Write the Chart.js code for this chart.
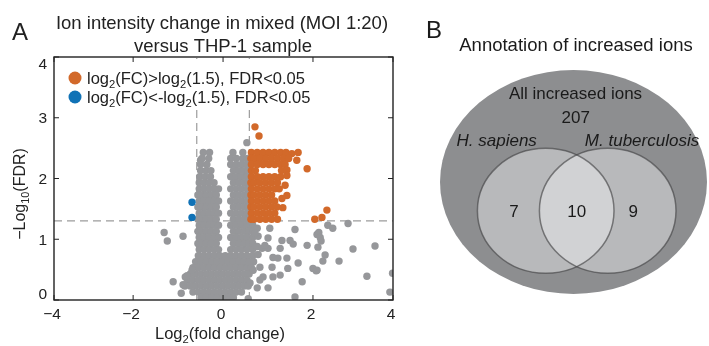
<!DOCTYPE html>
<html>
<head>
<meta charset="utf-8">
<script src="https://cdn.jsdelivr.net/npm/chart.js@4.4.1/dist/chart.umd.min.js"></script>
<style>
  html, body { margin: 0; padding: 0; background: #fff; }
  #wrap { position: relative; width: 709px; height: 346px; }
  #volcano { position: absolute; left: 0; top: 0; }
  #venn { position: absolute; left: 420px; top: 0; }
</style>
</head>
<body>
<div id="wrap">
  <canvas id="volcano" width="420" height="346"></canvas>
  <canvas id="venn" width="289" height="346"></canvas>
</div>
<script>
// Eixos do gráfico de vulcão
const xRange = [-3.76, 3.78];
const yRange = [0, 4];
const xTickLabels = [-4, -2, 0, 2, 4];
const yTickLabels = [0, 1, 2, 3, 4];
const fcCutoff = Math.log2(1.5);
const fdrCutoff = -Math.log10(0.05);

// Íons diminuídos (azul)
const bluePoints = [[-0.69, 1.61], [-0.69, 1.36]];

// Íons aumentados (laranja)
const orangePoints = [
  [0.71, 2.85], [0.8, 2.7],
  [0.63, 2.43], [0.76, 2.43], [0.89, 2.43], [1.02, 2.43], [1.15, 2.43], [1.28, 2.43], [1.4, 2.43], [1.53, 2.41], [1.67, 2.43],
  [0.62, 2.33], [0.69, 2.33], [0.82, 2.33], [0.95, 2.33], [1.08, 2.33], [1.21, 2.33], [1.34, 2.33], [1.46, 2.33], [1.64, 2.3],
  [0.63, 2.23], [0.76, 2.23], [0.89, 2.23], [1.02, 2.23], [1.15, 2.23], [1.28, 2.23], [1.38, 2.23],
  [0.63, 2.13], [0.72, 2.13], [1.3, 2.13], [1.42, 2.14], [1.87, 2.16],
  [0.63, 2.03], [0.76, 2.03], [0.89, 2.03], [1.02, 2.03], [1.15, 2.03], [1.28, 2.03], [1.42, 2.05],
  [0.62, 1.93], [0.69, 1.93], [0.82, 1.93], [0.95, 1.93], [1.08, 1.93], [1.21, 1.93],
  [0.63, 1.83], [0.76, 1.83], [0.89, 1.83], [1.02, 1.83], [1.15, 1.83], [1.25, 1.83], [1.38, 1.89],
  [0.62, 1.73], [0.69, 1.73], [0.82, 1.73], [0.95, 1.73], [1.08, 1.73], [1.42, 1.72],
  [0.63, 1.63], [0.76, 1.63], [0.89, 1.63], [1.02, 1.63], [1.15, 1.63], [1.31, 1.67],
  [0.62, 1.53], [0.69, 1.53], [0.82, 1.53], [0.95, 1.53], [1.08, 1.53], [1.2, 1.53], [1.33, 1.52],
  [0.63, 1.43], [0.76, 1.43], [0.89, 1.43], [1.02, 1.43], [1.15, 1.43],
  [0.62, 1.33], [0.69, 1.33], [0.82, 1.33], [0.95, 1.33], [1.08, 1.33], [1.21, 1.33],
  [2.31, 1.48], [2.2, 1.36], [2.04, 1.33]
];

// Íons sem mudança significativa (cinza)
const greyPoints = [
  // coluna esquerda
  [-0.44, 2.43], [-0.3, 2.43],
  [-0.5, 2.3], [-0.47, 2.33], [-0.32, 2.33],
  [-0.5, 2.23], [-0.36, 2.23],
  [-0.5, 2.13], [-0.38, 2.13], [-0.27, 2.13],
  [-0.52, 2.03], [-0.4, 2.03], [-0.28, 2.03],
  [-0.53, 1.93], [-0.42, 1.93], [-0.31, 1.93], [-0.2, 1.93],
  [-0.53, 1.83], [-0.42, 1.83], [-0.31, 1.83], [-0.2, 1.83], [-0.1, 1.83],
  [-0.56, 1.73], [-0.48, 1.73], [-0.37, 1.73], [-0.26, 1.73], [-0.15, 1.73],
  [-0.53, 1.63], [-0.42, 1.63], [-0.31, 1.63], [-0.2, 1.63], [-0.1, 1.63],
  [-0.56, 1.53], [-0.48, 1.53], [-0.37, 1.53], [-0.26, 1.53], [-0.15, 1.53],
  [-0.53, 1.43], [-0.42, 1.43], [-0.31, 1.43], [-0.2, 1.43], [-0.1, 1.43],
  [-0.56, 1.33], [-0.48, 1.33], [-0.37, 1.33], [-0.26, 1.33], [-0.15, 1.33],
  [-0.53, 1.23], [-0.42, 1.23], [-0.31, 1.23], [-0.2, 1.23], [-0.1, 1.23],
  [-0.56, 1.13], [-0.48, 1.13], [-0.37, 1.13], [-0.26, 1.13], [-0.15, 1.13],
  [-0.53, 1.03], [-0.42, 1.03], [-0.31, 1.03], [-0.2, 1.03], [-0.1, 1.03],
  [-0.56, 0.93], [-0.48, 0.93], [-0.37, 0.93], [-0.26, 0.93], [-0.15, 0.93],
  [-0.53, 0.83], [-0.42, 0.83], [-0.31, 0.83], [-0.2, 0.83], [-0.1, 0.83],
  // coluna direita
  [0.53, 2.59],
  [0.22, 2.43], [0.44, 2.43],
  [0.17, 2.33], [0.3, 2.33], [0.44, 2.33], [0.54, 2.33],
  [0.17, 2.23], [0.29, 2.23], [0.41, 2.23], [0.53, 2.23],
  [0.23, 2.13], [0.35, 2.13], [0.47, 2.13], [0.56, 2.13],
  [0.17, 2.03], [0.29, 2.03], [0.41, 2.03], [0.53, 2.03],
  [0.23, 1.93], [0.35, 1.93], [0.47, 1.93], [0.56, 1.93],
  [0.17, 1.83], [0.29, 1.83], [0.41, 1.83], [0.53, 1.83],
  [0.23, 1.73], [0.35, 1.73], [0.47, 1.73], [0.56, 1.73],
  [0.17, 1.63], [0.29, 1.63], [0.41, 1.63], [0.53, 1.63],
  [0.23, 1.53], [0.35, 1.53], [0.47, 1.53], [0.56, 1.53],
  [0.17, 1.43], [0.29, 1.43], [0.41, 1.43], [0.53, 1.43],
  [0.23, 1.33], [0.35, 1.33], [0.47, 1.33], [0.56, 1.33],
  [0.17, 1.23], [0.29, 1.23], [0.41, 1.23], [0.53, 1.23],
  [0.23, 1.13], [0.35, 1.13], [0.47, 1.13], [0.58, 1.13],
  [0.17, 1.03], [0.29, 1.03], [0.41, 1.03], [0.53, 1.03],
  [0.23, 0.93], [0.35, 0.93], [0.47, 0.93], [0.58, 0.93],
  [0.17, 0.83], [0.29, 0.83], [0.41, 0.83], [0.53, 0.83],
  [0.66, 1.23], [0.66, 1.13], [0.76, 1.18], [0.66, 1.03], [0.78, 1.05], [0.66, 0.93],
  [0.66, 0.83], [0.76, 0.88], [0.66, 0.73], [0.78, 0.75], [0.68, 0.63],
  // base
  [-0.55, 0.73], [-0.43, 0.73], [-0.31, 0.73], [-0.19, 0.73], [-0.07, 0.73], [0.05, 0.73], [0.17, 0.73], [0.29, 0.73], [0.41, 0.73], [0.53, 0.73],
  [-0.61, 0.63], [-0.49, 0.63], [-0.37, 0.63], [-0.25, 0.63], [-0.13, 0.63], [-0.01, 0.63], [0.11, 0.63], [0.23, 0.63], [0.35, 0.63], [0.47, 0.63], [0.59, 0.63],
  [-0.67, 0.53], [-0.55, 0.53], [-0.43, 0.53], [-0.31, 0.53], [-0.19, 0.53], [-0.07, 0.53], [0.05, 0.53], [0.17, 0.53], [0.29, 0.53], [0.41, 0.53], [0.53, 0.53], [0.63, 0.53],
  [-0.73, 0.43], [-0.61, 0.43], [-0.49, 0.43], [-0.37, 0.43], [-0.25, 0.43], [-0.13, 0.43], [-0.01, 0.43], [0.11, 0.43], [0.23, 0.43], [0.35, 0.43], [0.47, 0.43], [0.58, 0.43],
  [-0.79, 0.33], [-0.67, 0.33], [-0.55, 0.33], [-0.43, 0.33], [-0.31, 0.33], [-0.19, 0.33], [-0.07, 0.33], [0.05, 0.33], [0.17, 0.33], [0.29, 0.33], [0.41, 0.33], [0.53, 0.33],
  [-0.85, 0.23], [-0.73, 0.23], [-0.61, 0.23], [-0.49, 0.23], [-0.37, 0.23], [-0.25, 0.23], [-0.13, 0.23], [-0.01, 0.23], [0.11, 0.23], [0.23, 0.23], [0.35, 0.23], [0.47, 0.23], [0.56, 0.23],
  [-0.67, 0.13], [-0.55, 0.13], [-0.43, 0.13], [-0.31, 0.13], [-0.19, 0.13], [-0.07, 0.13], [0.05, 0.13], [0.17, 0.13], [0.29, 0.13], [0.41, 0.13],
  [-0.49, 0.04], [-0.37, 0.04], [-0.25, 0.04], [-0.13, 0.04], [-0.01, 0.04], [0.11, 0.04], [0.23, 0.04], [0.56, 0.02],
  // pontos dispersos à esquerda
  [-1.31, 1.11], [-1.24, 0.97], [-0.89, 1.05], [-1.11, 0.3], [-0.89, 0.25], [-0.93, 0.11],
  [-0.84, 0.38], [-0.8, 0.4], [-0.69, 0.49],
  // pontos dispersos à direita
  [1.6, 1.16], [2.09, 1.08], [1.49, 0.98], [1.31, 0.98], [1.56, 0.92], [1.27, 0.85], [1.0, 1.02],
  [1.0, 0.85], [0.87, 0.85], [1.87, 0.9], [1.42, 0.69], [1.11, 0.7], [1.22, 0.69], [1.09, 0.54],
  [1.67, 0.61], [1.44, 0.52], [2.0, 0.52], [2.09, 0.49], [1.76, 0.3], [1.27, 0.41], [1.11, 0.38],
  [0.89, 0.38], [0.82, 0.33], [1.0, 0.2], [0.76, 0.2], [0.6, 0.28], [1.6, 0.05], [0.67, 0.49],
  [0.82, 0.54], [0.93, 0.9], [0.71, 1.1], [1.04, 1.18],
  [2.33, 1.23], [2.44, 1.18], [2.78, 1.26], [2.13, 1.11], [2.16, 1.03], [2.18, 0.97], [2.11, 0.87],
  [2.89, 0.84], [3.38, 0.89], [2.27, 0.74], [2.22, 0.64], [2.58, 0.64], [2.07, 0.48], [3.2, 0.39],
  [3.77, 0.44], [3.71, 0.13]
];

// Diagrama de Venn
const vennSets = ['H. sapiens', 'M. tuberculosis'];
const vennCounts = [7, 10, 9];
const totalIncreased = 207;

const colors = {
  grey: '#96979a',
  orange: '#d2692a',
  blue: '#1072b6',
  dash: '#9c9c9c',
  axis: '#222'
};

const FONT = '"Liberation Sans", Arial, Helvetica, sans-serif';

function toXY(list) {
  return list.map(p => ({ x: p[0], y: p[1] }));
}

// Texto com partes subscritas
function richText(ctx, parts, x, y, size, align) {
  let total = 0;
  parts.forEach(p => {
    ctx.font = `${p.sub ? size * 0.68 : size}px ${FONT}`;
    total += ctx.measureText(p.t).width;
  });
  let cx = align === 'center' ? x - total / 2 : x;
  ctx.textAlign = 'left';
  ctx.textBaseline = 'alphabetic';
  parts.forEach(p => {
    ctx.font = `${p.sub ? size * 0.68 : size}px ${FONT}`;
    ctx.fillText(p.t, cx, p.sub ? y + size * 0.27 : y);
    cx += ctx.measureText(p.t).width;
  });
}

function fmt(v) {
  return v < 0 ? '\u2212' + Math.abs(v) : String(v);
}

const volcanoDecor = {
  id: 'volcanoDecor',
  beforeDatasetsDraw(chart) {
    const { ctx, chartArea: a, scales: { x, y } } = chart;
    ctx.save();
    ctx.strokeStyle = colors.dash;
    ctx.lineWidth = 1.2;
    ctx.setLineDash([8, 5]);
    ctx.beginPath();
    const yc = y.getPixelForValue(fdrCutoff);
    ctx.moveTo(a.left, yc);
    ctx.lineTo(a.right, yc);
    [-fcCutoff, fcCutoff].forEach(v => {
      const px = x.getPixelForValue(v);
      ctx.moveTo(px, a.bottom);
      ctx.lineTo(px, a.top);
    });
    ctx.stroke();
    ctx.restore();
  },
  afterDatasetsDraw(chart) {
    const { ctx } = chart;
    ctx.save();
    // caixa da legenda
    ctx.fillStyle = '#fff';
    ctx.fillRect(58, 59, 268, 48);
    const rows = [
      { c: colors.orange, y: 78, parts: [{ t: 'log' }, { t: '2', sub: true }, { t: '(FC)>log' }, { t: '2', sub: true }, { t: '(1.5), FDR<0.05' }] },
      { c: colors.blue, y: 97, parts: [{ t: 'log' }, { t: '2', sub: true }, { t: '(FC)<-log' }, { t: '2', sub: true }, { t: '(1.5), FDR<0.05' }] }
    ];
    rows.forEach(r => {
      ctx.fillStyle = r.c;
      ctx.beginPath();
      ctx.arc(75, r.y, 6.5, 0, Math.PI * 2);
      ctx.fill();
      ctx.fillStyle = '#222';
      richText(ctx, r.parts, 87, r.y + 6, 16.5, 'left');
    });
    ctx.restore();
  },
  afterDraw(chart) {
    const { ctx, chartArea: a, scales: { x, y } } = chart;
    ctx.save();
    // moldura
    ctx.strokeStyle = colors.axis;
    ctx.lineWidth = 1.4;
    ctx.strokeRect(a.left, a.top, a.right - a.left, a.bottom - a.top);
    // marcas internas
    ctx.lineWidth = 1;
    ctx.beginPath();
    xTickLabels.forEach(v => {
      const px = x.getPixelForValue(Math.min(Math.max(v, x.min), x.max));
      ctx.moveTo(px, a.bottom); ctx.lineTo(px, a.bottom - 5);
      ctx.moveTo(px, a.top); ctx.lineTo(px, a.top + 5);
    });
    yTickLabels.forEach(v => {
      const py = y.getPixelForValue(v);
      ctx.moveTo(a.left, py); ctx.lineTo(a.left + 5, py);
      ctx.moveTo(a.right, py); ctx.lineTo(a.right - 5, py);
    });
    ctx.stroke();
    // rótulos dos ticks
    ctx.fillStyle = '#222';
    ctx.font = `15.5px ${FONT}`;
    ctx.textAlign = 'center';
    ctx.textBaseline = 'alphabetic';
    xTickLabels.forEach(v => {
      const px = x.getPixelForValue(Math.min(Math.max(v, x.min), x.max));
      ctx.fillText(fmt(v), px - 2, a.bottom + 19);
    });
    ctx.textAlign = 'right';
    yTickLabels.forEach((v, i) => {
      let py = y.getPixelForValue(v);
      if (i === 0) py -= 7;
      if (i === yTickLabels.length - 1) py += 6;
      ctx.fillText(fmt(v), a.left - 7, py + 5.5);
    });
    // títulos dos eixos
    richText(ctx, [{ t: 'Log' }, { t: '2', sub: true }, { t: '(fold change)' }], 220, 339, 16.5, 'center');
    ctx.save();
    ctx.translate(25, 194);
    ctx.rotate(-Math.PI / 2);
    richText(ctx, [{ t: '\u2212Log' }, { t: '10', sub: true }, { t: '(FDR)' }], 0, 0, 16, 'center');
    ctx.restore();
    // título
    ctx.font = `18.5px ${FONT}`;
    ctx.textAlign = 'center';
    ctx.fillText('Ion intensity change in mixed (MOI 1:20)', 222, 29);
    ctx.fillText('versus THP-1 sample', 223, 51.5);
    ctx.font = `24px ${FONT}`;
    ctx.textAlign = 'left';
    ctx.fillText('A', 12, 40);
    ctx.restore();
  }
};

new Chart(document.getElementById('volcano'), {
  type: 'scatter',
  data: {
    datasets: [
      { label: 'down', data: toXY(bluePoints), backgroundColor: colors.blue, order: 0 },
      { label: 'up', data: toXY(orangePoints), backgroundColor: colors.orange, order: 1 },
      { label: 'ns', data: toXY(greyPoints), backgroundColor: colors.grey, order: 2 }
    ]
  },
  options: {
    responsive: false,
    animation: false,
    events: [],
    layout: { padding: { left: 54, right: 27, top: 57, bottom: 46 } },
    elements: { point: { radius: 3.7, hoverRadius: 3.7, borderWidth: 0 } },
    plugins: { legend: { display: false }, tooltip: { enabled: false } },
    scales: {
      x: { type: 'linear', min: xRange[0], max: xRange[1], display: false },
      y: { type: 'linear', min: yRange[0], max: yRange[1], display: false }
    }
  },
  plugins: [volcanoDecor]
});

// Geometria do diagrama de Venn (coordenadas do próprio canvas)
const vennLayout = {
  outer: { cx: 153.5, cy: 182, rx: 133.5, ry: 112 },
  left: { cx: 125.7, cy: 210.8, rx: 68.3, ry: 62.5 },
  right: { cx: 187.7, cy: 210.8, rx: 68.3, ry: 62.5 }
};

const vennDraw = {
  id: 'vennDraw',
  afterDraw(chart) {
    const { ctx, scales: { x, y } } = chart;
    const ell = (e) => {
      ctx.beginPath();
      ctx.ellipse(x.getPixelForValue(e.cx), y.getPixelForValue(e.cy),
        Math.abs(x.getPixelForValue(e.rx) - x.getPixelForValue(0)),
        Math.abs(y.getPixelForValue(e.ry) - y.getPixelForValue(0)), 0, 0, Math.PI * 2);
    };
    const L = vennLayout;
    ctx.save();
    ell(L.outer); ctx.fillStyle = '#8d8e90'; ctx.fill();
    ell(L.left); ctx.fillStyle = '#b8b9bb'; ctx.fill();
    ell(L.right); ctx.fill();
    ctx.save();
    ell(L.left); ctx.clip();
    ell(L.right); ctx.fillStyle = '#d1d2d4'; ctx.fill();
    ctx.restore();
    ctx.strokeStyle = 'rgba(70,70,72,0.65)';
    ctx.lineWidth = 1.5;
    ell(L.left); ctx.stroke();
    ell(L.right); ctx.stroke();

    ctx.fillStyle = '#1a1a1a';
    ctx.textBaseline = 'alphabetic';
    ctx.textAlign = 'left';
    ctx.font = `24px ${FONT}`;
    ctx.fillText('B', 6, 38);
    ctx.textAlign = 'center';
    ctx.font = `18.5px ${FONT}`;
    ctx.fillText('Annotation of increased ions', 156, 50.5);
    ctx.font = `17px ${FONT}`;
    ctx.fillText('All increased ions', 155.5, 98.5);
    ctx.fillText(String(totalIncreased), 155.7, 122.8);
    ctx.font = `italic 17px ${FONT}`;
    ctx.fillText(vennSets[0], 76.7, 146);
    ctx.fillText(vennSets[1], 222, 146);
    ctx.font = `17px ${FONT}`;
    const countX = [94, 156.7, 213.3];
    vennCounts.forEach((c, i) => ctx.fillText(String(c), countX[i], 216.8));
    ctx.restore();
  }
};

new Chart(document.getElementById('venn'), {
  type: 'scatter',
  data: { datasets: [] },
  options: {
    responsive: false,
    animation: false,
    events: [],
    layout: { padding: 0 },
    plugins: { legend: { display: false }, tooltip: { enabled: false } },
    scales: {
      x: { type: 'linear', min: 0, max: 289, display: false },
      y: { type: 'linear', min: 0, max: 346, reverse: true, display: false }
    }
  },
  plugins: [vennDraw]
});
</script>
</body>
</html>
